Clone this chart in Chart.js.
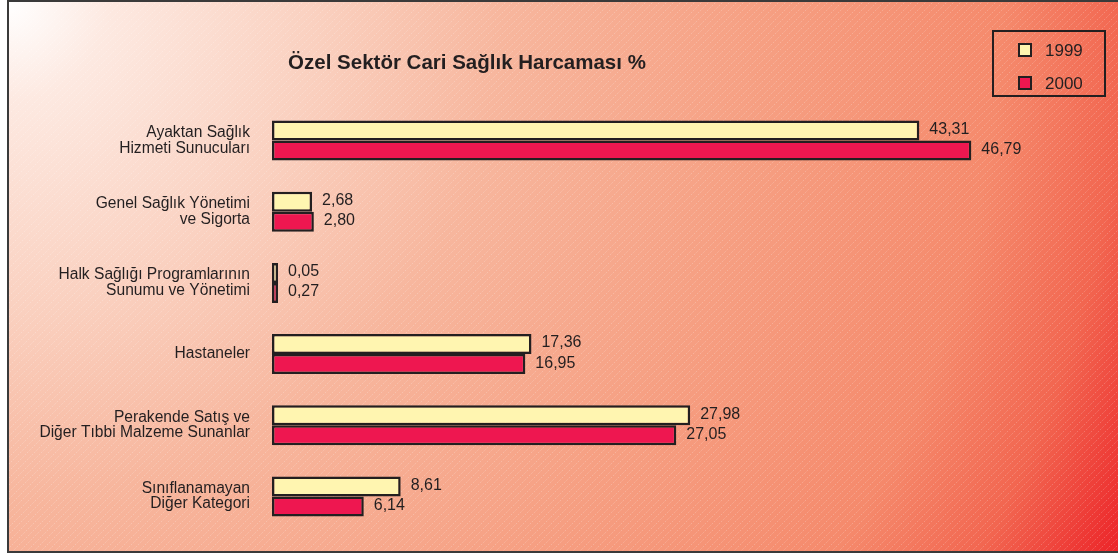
<!DOCTYPE html>
<html>
<head>
<meta charset="utf-8">
<script src="https://cdn.jsdelivr.net/npm/chart.js@4"></script>
<style>
  html, body { margin: 0; padding: 0; background: #fff; }
  canvas { display: block; }
</style>
</head>
<body>
<canvas id="chart" width="1118" height="556"></canvas>
<script>
const categories = [
  ['Ayaktan Sağlık', 'Hizmeti Sunucuları'],
  ['Genel Sağlık Yönetimi', 've Sigorta'],
  ['Halk Sağlığı Programlarının', 'Sunumu ve Yönetimi'],
  ['Hastaneler'],
  ['Perakende Satış ve', 'Diğer Tıbbi Malzeme Sunanlar'],
  ['Sınıflanamayan', 'Diğer Kategori'],
];
const seriesLabels = ['1999', '2000'];
const values1999 = [43.31, 2.68, 0.05, 17.36, 27.98, 8.61];
const values2000 = [46.79, 2.80, 0.27, 16.95, 27.05, 6.14];
const chartTitle = 'Özel Sektör Cari Sağlık Harcaması %';

const FONT = '"Liberation Sans", Arial, Helvetica, sans-serif';
const INK = '#231f20';

// Panel: radial white -> red wash from the top-left corner, faint dotted hatching, dark frame.
const panelBackground = {
  id: 'panelBackground',
  beforeDraw(chart) {
    const ctx = chart.ctx;
    const x0 = 9, y0 = 2, x1 = chart.width + 4, y1 = 552;
    ctx.save();
    const g = ctx.createRadialGradient(x0, y0, 0, x0, y0, 1240);
    g.addColorStop(0, '#ffffff');
    g.addColorStop(0.08, '#fde9e1');
    g.addColorStop(0.25, '#fad0bf');
    g.addColorStop(0.4, '#f7b69d');
    g.addColorStop(0.6, '#f6a083');
    g.addColorStop(0.8, '#f58a6c');
    g.addColorStop(0.9, '#f26650');
    g.addColorStop(1, '#ec2328');
    ctx.fillStyle = g;
    ctx.fillRect(x0, y0, x1 - x0, y1 - y0);

    ctx.beginPath();
    ctx.rect(x0, y0, x1 - x0, y1 - y0);
    ctx.clip();
    ctx.strokeStyle = 'rgba(255,255,255,0.3)';
    ctx.lineWidth = 1;
    ctx.setLineDash([1, 1.5]);
    const h = y1 - y0;
    for (let x = x0 - h; x < x1; x += 7) {
      ctx.beginPath();
      ctx.moveTo(x, y1);
      ctx.lineTo(x + h, y0);
      ctx.stroke();
    }
    ctx.restore();

    ctx.save();
    ctx.strokeStyle = '#3a3a3a';
    ctx.lineWidth = 2;
    ctx.strokeRect(x0 - 1, y0 - 1, x1 - x0 + 2, y1 - y0 + 1);
    ctx.restore();
  },
};

// Title, boxed legend and value labels.
const annotations = {
  id: 'annotations',
  afterDatasetsDraw(chart) {
    const ctx = chart.ctx;
    ctx.save();
    ctx.fillStyle = INK;

    ctx.font = 'bold 20.5px ' + FONT;
    ctx.textAlign = 'center';
    ctx.textBaseline = 'middle';
    ctx.fillText(chartTitle, 467, 63);

    ctx.font = '16px ' + FONT;
    ctx.textAlign = 'left';
    chart.data.datasets.forEach((ds, di) => {
      const meta = chart.getDatasetMeta(di);
      meta.data.forEach((bar, i) => {
        const txt = ds.data[i].toFixed(2).replace('.', ',');
        ctx.fillText(txt, bar.x + 10, bar.y - 1);
      });
    });

    // legend
    ctx.strokeStyle = INK;
    ctx.lineWidth = 2;
    ctx.strokeRect(993, 31, 112, 65);
    ctx.font = '17px ' + FONT;
    chart.data.datasets.forEach((ds, di) => {
      const cy = 50 + di * 33;
      ctx.fillStyle = ds.backgroundColor;
      ctx.fillRect(1019, cy - 6, 12, 12);
      ctx.lineWidth = 2;
      ctx.strokeRect(1019, cy - 6, 12, 12);
      ctx.fillStyle = INK;
      ctx.fillText(ds.label, 1045, cy + 1);
    });
    ctx.restore();
  },
};

new Chart(document.getElementById('chart'), {
  type: 'bar',
  data: {
    labels: categories,
    datasets: [
      {
        label: seriesLabels[0],
        data: values1999,
        backgroundColor: '#fff5b0',
      },
      {
        label: seriesLabels[1],
        data: values2000,
        backgroundColor: '#ee1750',
      },
    ],
  },
  options: {
    indexAxis: 'y',
    responsive: false,
    animation: false,
    devicePixelRatio: 1,
    layout: { padding: { top: 105, bottom: 24, right: 9, left: 0 } },
    datasets: {
      bar: {
        borderColor: INK,
        borderWidth: 2.5,
        borderSkipped: false,
        barPercentage: 1,
        categoryPercentage: 0.563,
        minBarLength: 6,
      },
    },
    scales: {
      x: { display: false, min: 0, max: 56 },
      y: {
        // fixed label column; the tick padding must not also pad the plot vertically
        afterFit(scale) {
          scale.width = 272;
          scale.paddingTop = 0;
          scale.paddingBottom = 0;
        },
        grid: { display: false, drawTicks: false },
        border: { display: false },
        ticks: {
          padding: 22,
          color: INK,
          font: { family: FONT, size: 15.6, lineHeight: '15.5px' },
        },
      },
    },
    plugins: {
      legend: { display: false },
      tooltip: { enabled: false },
    },
  },
  plugins: [panelBackground, annotations],
});
</script>
</body>
</html>
